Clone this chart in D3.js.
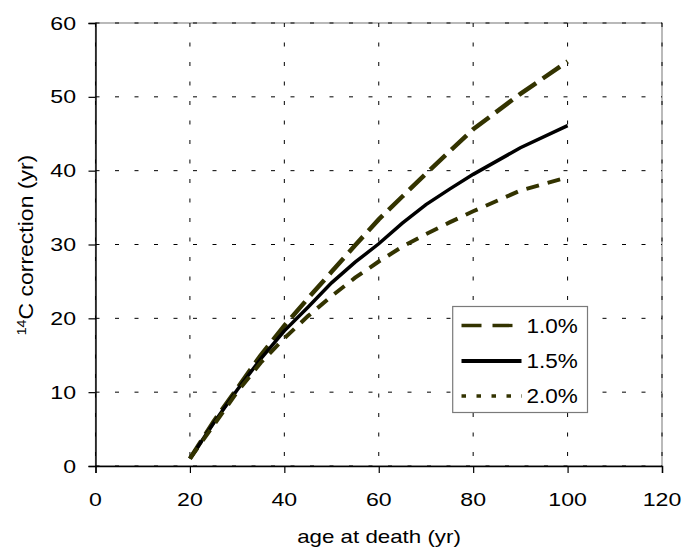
<!DOCTYPE html>
<html><head><meta charset="utf-8">
<script src="https://cdn.jsdelivr.net/npm/d3@7"></script>
<style>
html,body{margin:0;padding:0;background:#fff;}
svg{display:block;}
text{font-family:"Liberation Sans",Arial,sans-serif;fill:#000;}
</style></head>
<body>
<svg id="chart" width="683" height="549"></svg>
<script>
const ages = [20,25,30,35,40,45,50,55,60,65,70,75,80,90,100];
const rate10 = [1,6,10.5,15,19,22.7,26.3,29.9,33.4,36.5,39.6,42.6,45.6,50.4,54.8];
const rate15 = [1,5.8,10.3,14.5,18.3,21.5,24.8,27.6,30.1,32.9,35.4,37.5,39.5,43.1,46.1];
const rate20 = [1,5.5,10,14,17.3,20.3,23,25.5,27.7,29.7,31.4,33,34.5,37.3,39.1];
const seriesNames = ["1.0%","1.5%","2.0%"];
const xTicks = [0,20,40,60,80,100,120];
const yTicks = [0,10,20,30,40,50,60];
const xTitle = "age at death (yr)";
const yTitleSup = "14";
const yTitle = "C correction (yr)";

const svg = d3.select("#chart");
const L = 95.5, T = 23, R = 662, B = 466;
const x = d3.scaleLinear().domain([0,120]).range([L,R]);
const y = d3.scaleLinear().domain([0,60]).range([B,T]);

const olive = "#333300";
const styles = [
  {color: olive, width: 4.5, dash: "21,8", lw: 3.3, ldash: "20,11"},
  {color: "#000", width: 3.5, dash: null, lw: 4, ldash: null},
  {color: olive, width: 4, dash: "13,9", lw: 3.3, ldash: "4.5,10.5"}
];
const series = [rate10, rate15, rate20];

// plot border (gray)
svg.append("rect").attr("x",L).attr("y",T).attr("width",R-L).attr("height",B-T)
  .attr("fill","none").attr("stroke","#8c8c8c").attr("stroke-width",1.2);

// gridlines
const grid = svg.append("g");
yTicks.forEach(v=>{
  grid.append("line").attr("x1",L).attr("x2",R).attr("y1",y(v)).attr("y2",y(v))
    .attr("stroke","#000").attr("stroke-width",1).attr("stroke-dasharray","4,15.5");
});
xTicks.forEach(v=>{
  grid.append("line").attr("y1",T).attr("y2",B).attr("x1",x(v)).attr("x2",x(v))
    .attr("stroke","#000").attr("stroke-width",1).attr("stroke-dasharray","4,15.5");
});

// axes
const xAxis = d3.axisBottom(x).tickValues(xTicks).tickSize(7).tickFormat("");
const yAxis = d3.axisLeft(y).tickValues(yTicks).tickSize(7).tickFormat("");
const gx = svg.append("g").attr("transform",`translate(0,${B})`).call(xAxis);
const gy = svg.append("g").attr("transform",`translate(${L},0)`).call(yAxis);
[gx,gy].forEach(g=>{
  g.select(".domain").attr("stroke","#000").attr("stroke-width",1.4);
  g.selectAll(".tick line").attr("stroke","#000").attr("stroke-width",1.2);
});

function label(px, py, txt, anchor, size, sx, rot){
  const t = svg.append("text")
    .attr("transform",`translate(${px},${py})` + (rot?` rotate(${rot})`:"") + ` scale(${sx},1)`)
    .attr("text-anchor",anchor).attr("font-size",size+"px");
  if (txt !== null) t.text(txt);
  return t;
}

xTicks.forEach(v=> label(x(v), 506, String(v), "middle", 18.5, 1.25));
yTicks.forEach(v=> label(76, y(v)+6.6, String(v), "end", 18.5, 1.25));

label(379, 543, xTitle, "middle", 18, 1.24);
const yt = label(33, 245, null, "middle", 19.5, 1.18, -90);
yt.append("tspan").attr("font-size","12px").attr("dy","-7").text(yTitleSup);
yt.append("tspan").attr("dy","7").text(yTitle);

// lines
const line = d3.line().x(d=>x(d[0])).y(d=>y(d[1])).curve(d3.curveLinear);
series.forEach((vals,i)=>{
  const pts = ages.map((a,j)=>[a, vals[j]]);
  const p = svg.append("path").datum(pts).attr("d",line)
    .attr("fill","none").attr("stroke",styles[i].color).attr("stroke-width",styles[i].width)
    .attr("stroke-linejoin","miter").attr("stroke-linecap","butt");
  if (styles[i].dash) p.attr("stroke-dasharray",styles[i].dash);
});

// legend
const lg = svg.append("g");
lg.append("rect").attr("x",452.7).attr("y",306.5).attr("width",134.8).attr("height",106)
  .attr("fill","#fff").attr("stroke","#7a7a7a").attr("stroke-width",1.2);
const rowY = [325.5, 361, 396];
seriesNames.forEach((name,i)=>{
  const s = styles[i];
  const ln = lg.append("line").attr("x1",461.5).attr("x2", i===1?521.5:(i===0?513.5:522))
    .attr("y1",rowY[i]).attr("y2",rowY[i])
    .attr("stroke",s.color).attr("stroke-width",s.lw);
  if (s.ldash) ln.attr("stroke-dasharray",s.ldash);
  label(526.5, rowY[i]+7.3, name, "start", 20.3, 1.11);
});
</script>
</body></html>
